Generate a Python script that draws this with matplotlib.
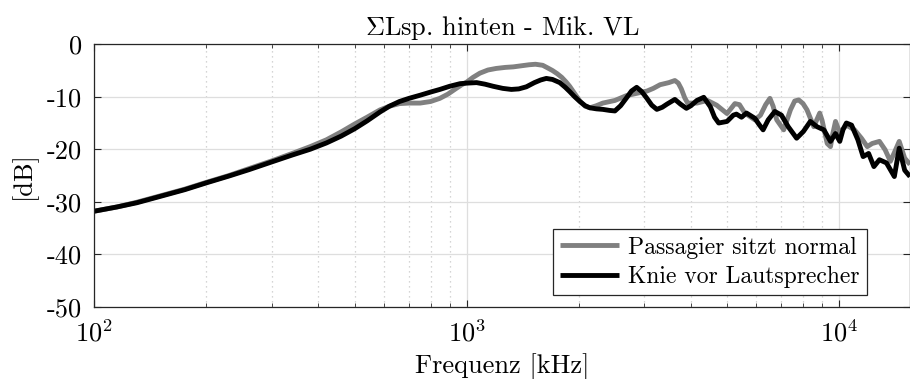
import matplotlib
matplotlib.use("Agg")
import matplotlib.pyplot as plt
from matplotlib.ticker import FixedLocator, FuncFormatter, LogLocator, NullFormatter

plt.rcParams['font.family'] = 'serif'
plt.rcParams['font.serif'] = ['cmr10']
plt.rcParams['mathtext.fontset'] = 'cm'
plt.rcParams['axes.unicode_minus'] = False
plt.rcParams['axes.formatter.use_mathtext'] = True

# Passagier sitzt normal (gray)
freq_normal = [100, 115, 130, 150, 175, 200, 230, 260, 300, 340, 380, 420, 460, 500, 540, 585,
               620, 660, 700, 750, 800, 847, 890, 933, 970, 1000, 1040, 1085, 1140, 1200, 1270,
               1334, 1400, 1470, 1530, 1600, 1650, 1700, 1750, 1800, 1850, 1890, 1950, 2013,
               2080, 2142, 2230, 2320, 2500, 2680, 2920, 3050, 3170, 3306, 3490, 3622, 3700,
               3770, 3850, 3920, 4150, 4430, 4690, 5000, 5250, 5400, 5580, 5940, 6150, 6350,
               6520, 6650, 6800, 7100, 7400, 7600, 7790, 8000, 8200, 8550, 8870, 9000, 9290,
               9480, 9620, 9780, 10040, 10460, 11000, 11480, 11900, 12270, 12830, 13290, 13730,
               14100, 14500, 15000, 15500]
db_normal = [-31.8, -31.0, -30.1, -28.9, -27.6, -26.3, -25.0, -23.7, -22.2, -20.8, -19.5, -18.2,
             -16.7, -15.2, -13.9, -12.5, -11.8, -11.3, -11.2, -11.2, -10.9, -10.3, -9.5, -8.5,
             -7.7, -7.2, -6.3, -5.5, -4.9, -4.6, -4.4, -4.3, -4.1, -3.9, -3.8, -4.0, -4.5, -5.0,
             -5.6, -6.3, -7.2, -8.0, -9.4, -10.8, -11.8, -12.1, -11.7, -11.2, -10.7, -9.8, -9.2,
             -8.9, -8.4, -7.7, -7.3, -6.9, -7.4, -8.5, -10.2, -11.2, -11.2, -10.7, -11.6, -13.2,
             -11.3, -11.5, -13.1, -14.4, -13.5, -11.5, -10.3, -11.8, -14.4, -16.3, -12.5, -10.8,
             -10.6, -11.3, -12.5, -15.7, -13.1, -14.5, -18.9, -19.5, -17.0, -14.7, -16.9, -15.4,
             -16.3, -17.9, -19.5, -18.9, -18.5, -20.1, -22.3, -20.5, -18.5, -21.7, -22.9]

# Knie vor Lautsprecher (black)
freq_knie = [100, 115, 130, 150, 175, 200, 230, 260, 300, 340, 380, 420, 460, 500, 540, 585,
             620, 660, 700, 750, 800, 847, 900, 960, 1000, 1063, 1120, 1178, 1250, 1318, 1380,
             1446, 1520, 1580, 1636, 1700, 1778, 1840, 1890, 1950, 2013, 2080, 2142, 2230, 2320,
             2420, 2500, 2590, 2680, 2770, 2860, 2950, 3040, 3140, 3240, 3350, 3450, 3622, 3750,
             3890, 4000, 4150, 4330, 4510, 4630, 4750, 5000, 5200, 5300, 5470, 5640, 5940, 6100,
             6250, 6450, 6720, 7000, 7300, 7690, 8020, 8370, 8720, 9100, 9480, 9780, 10040,
             10250, 10460, 10800, 11230, 11600, 12000, 12400, 12830, 13400, 14070, 14500, 15000,
             15500]
db_knie = [-31.8, -31.0, -30.2, -29.0, -27.7, -26.4, -25.1, -23.9, -22.4, -21.1, -20.0, -18.8,
           -17.5, -16.1, -14.6, -12.9, -11.8, -10.9, -10.3, -9.7, -9.1, -8.6, -8.0, -7.5, -7.4,
           -7.3, -7.6, -8.0, -8.4, -8.6, -8.5, -8.1, -7.3, -6.8, -6.5, -6.7, -7.3, -8.2, -9.0,
           -10.0, -10.9, -11.7, -12.1, -12.3, -12.4, -12.6, -12.7, -11.7, -10.3, -8.9, -8.2,
           -9.0, -10.2, -11.6, -12.4, -12.0, -11.4, -10.5, -11.4, -12.2, -11.7, -10.7, -10.1,
           -11.9, -13.9, -15.0, -14.7, -13.5, -13.3, -13.9, -13.1, -14.1, -15.3, -16.3, -14.4,
           -12.8, -13.5, -15.7, -17.9, -16.6, -14.7, -15.7, -16.3, -18.5, -17.0, -18.5, -16.2,
           -15.0, -15.4, -18.2, -21.4, -20.8, -23.3, -22.0, -22.6, -25.2, -19.8, -24.0, -25.2]

labels = ['Passagier sitzt normal', 'Knie vor Lautsprecher']
yticks = [-50, -40, -30, -20, -10, 0]

fig = plt.figure(figsize=(9.1, 3.79), dpi=100)
ax = fig.add_axes([0.1036, 0.1908, 0.8964, 0.6923])

ax.semilogx(freq_normal, db_normal, color='#808080', lw=3.5, label=labels[0],
            solid_joinstyle='round', solid_capstyle='butt')
ax.semilogx(freq_knie, db_knie, color='black', lw=3.5, label=labels[1],
            solid_joinstyle='round', solid_capstyle='butt')

ax.set_xlim(100, 15500)
ax.set_ylim(-50, 0)
ax.yaxis.set_major_locator(FixedLocator(yticks))
ax.yaxis.set_major_formatter(FuncFormatter(lambda v, p: f"{int(round(v))}"))
ax.xaxis.set_major_locator(LogLocator(base=10))
ax.xaxis.set_minor_locator(LogLocator(base=10, subs=range(2, 10)))
ax.xaxis.set_minor_formatter(NullFormatter())

ax.grid(True, which='major', color='#dedede', lw=0.9, ls='-')
ax.grid(True, which='minor', axis='x', color='#c8c8c8', lw=0.9, ls=(0, (1, 3)))
ax.set_axisbelow(True)

ax.tick_params(which='both', direction='in', top=True, right=True, labelsize=19, color='#262626')
ax.tick_params(which='major', length=5, width=0.8)
ax.tick_params(which='minor', length=3, width=0.6)
ax.tick_params(axis='x', pad=9)
ax.tick_params(axis='y', pad=9)
for s in ax.spines.values():
    s.set_color('#262626')
    s.set_linewidth(0.9)

ax.set_title(r'$\Sigma$Lsp. hinten - Mik. VL', fontsize=19, pad=7)
ax.set_xlabel('Frequenz [kHz]', fontsize=19, labelpad=5)
ax.set_ylabel('[dB]', fontsize=19, labelpad=7)

leg = ax.legend(loc='lower right', bbox_to_anchor=(0.947, 0.0446), borderaxespad=0,
                fontsize=17, fancybox=False, edgecolor='#262626', framealpha=1,
                handlelength=2.5, handletextpad=0.4, labelspacing=0.3, borderpad=0.3)
leg.get_frame().set_linewidth(0.9)

fig.savefig('out.png', dpi=100)
